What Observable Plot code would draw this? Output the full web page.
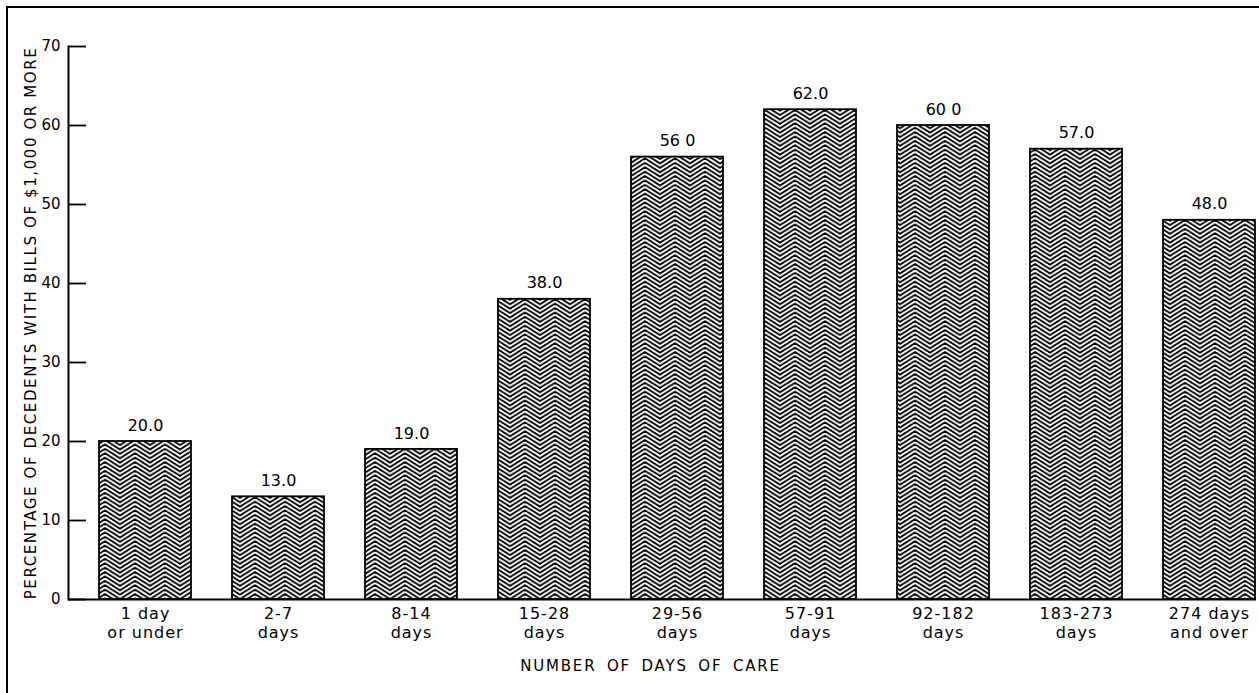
<!DOCTYPE html>
<html>
<head>
<meta charset="utf-8">
<script src="https://cdn.jsdelivr.net/npm/d3@7"></script>
<script src="https://cdn.jsdelivr.net/npm/@observablehq/plot@0.6"></script>
<style>
  html, body { margin: 0; padding: 0; background: #fff; }
  #chart svg { display: block; }
</style>
</head>
<body>
<div id="chart"></div>
<script>
const categories = [
  "1 day\nor under", "2-7\ndays", "8-14\ndays", "15-28\ndays", "29-56\ndays",
  "57-91\ndays", "92-182\ndays", "183-273\ndays", "274 days\nand over"
];
const values = [20.0, 13.0, 19.0, 38.0, 56.0, 62.0, 60.0, 57.0, 48.0];
const valueLabels = ["20.0", "13.0", "19.0", "38.0", "56 0", "62.0", "60 0", "57.0", "48.0"];
const yTicks = [0, 10, 20, 30, 40, 50, 60, 70];
const yTitle = "PERCENTAGE OF DECEDENTS WITH BILLS OF $1,000 OR MORE";
const xTitle = "NUMBER OF DAYS OF CARE";

const data = categories.map((c, i) => ({cat: c, value: values[i], label: valueLabels[i]}));

const font = "'DejaVu Sans', 'Liberation Sans', sans-serif";

const chart = Plot.plot({
  width: 1259,
  height: 693,
  marginLeft: 68,
  marginRight: 3,
  marginTop: 46,
  marginBottom: 94,
  style: {fontFamily: font, fontSize: "15px", color: "#000", background: "#fff"},
  x: {domain: categories, paddingInner: 0.31, paddingOuter: 0.217, range: [68, 1285]},
  y: {domain: [0, 70]},
  marks: [
    Plot.barY(data, {x: "cat", y: "value", fill: "url(#zigzag)", stroke: "#000", strokeWidth: 1.8}),
    Plot.text(data, {x: "cat", y: "value", text: "label", dy: -16, fontSize: 16, fill: "#000", style: "letter-spacing:1px"}),
    Plot.ruleY([0], {stroke: "#000", strokeWidth: 2.2}),
    Plot.axisY({ticks: yTicks, tickSize: -18, tickPadding: 26, strokeWidth: 1.8, fontSize: 15,
      label: yTitle, labelAnchor: "center", labelOffset: 43, labelArrow: "none"}),
    Plot.axisX({tickSize: 0, tickPadding: 6, fontSize: 16, lineHeight: 1.2, label: null}),
    Plot.frame({anchor: "left", stroke: "#000", strokeWidth: 2}),
    Plot.text([xTitle], {frameAnchor: "bottom", dy: 71, dx: -12, fontSize: 15, fill: "#000"})
  ]
});

const svg = d3.select(chart);
const defs = svg.insert("defs", ":first-child");
const ph = 4.4;
const pat = defs.append("pattern")
  .attr("id", "zigzag")
  .attr("patternUnits", "userSpaceOnUse")
  .attr("width", 30).attr("height", ph);
pat.append("rect").attr("width", 30).attr("height", ph).attr("fill", "#fff");
for (let k = -4; k <= 2; k++) {
  const y0 = k * ph;
  pat.append("path")
    .attr("d", `M-3,${y0 + 10.5} L0,${y0 + 9.5} L15,${y0} L30,${y0 + 9.5} L33,${y0 + 10.5}`)
    .attr("fill", "none").attr("stroke", "#000").attr("stroke-width", 1.8)
    .attr("stroke-linejoin", "round");
}
// outer border of the figure
svg.append("rect")
  .attr("x", 7).attr("y", 7).attr("width", 1270).attr("height", 700)
  .attr("fill", "none").attr("stroke", "#000").attr("stroke-width", 2);

// letter spacing on texts
svg.selectAll("text").each(function() {
  const t = d3.select(this);
  if (t.text() === yTitle) t.style("letter-spacing", "1.6px");
  if (t.text() === xTitle) t.style("letter-spacing", "1.8px").style("word-spacing", "4px");
});
svg.selectAll("[aria-label='x-axis tick label'] text").style("letter-spacing", "1px");

document.getElementById("chart").appendChild(chart);
</script>
</body>
</html>
